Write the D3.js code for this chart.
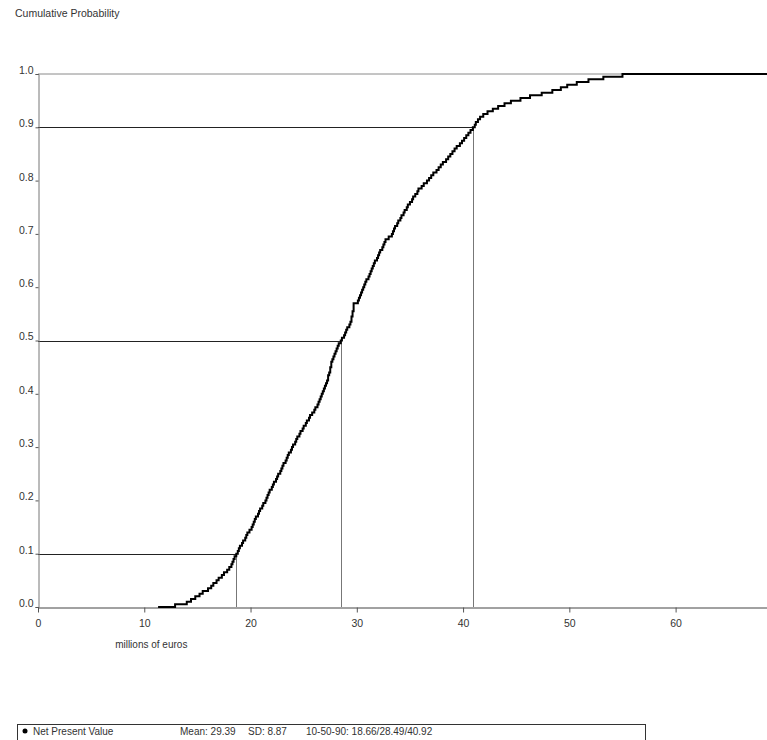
<!DOCTYPE html>
<html><head><meta charset="utf-8">
<script src="https://cdn.jsdelivr.net/npm/d3@7"></script>
<style>body{margin:0;background:#fff}svg{display:block}text{font-family:"Liberation Sans",Arial,sans-serif;font-size:10.5px;fill:#333}</style>
</head><body><svg id="c" width="767" height="740"></svg>
<script>
// cumulative probability levels (steps of 0.005) and the value (millions of euros) reached at each
const probLevels = d3.range(0, 201).map(i => i / 200);
const npvQuantiles = [
 11.3,12.9,14.0,14.4,14.8,15.2,15.5,16.0,16.3,16.5,
 16.8,17.0,17.3,17.5,17.8,18.0,18.2,18.3,18.4,18.5,
 18.66,18.8,18.9,19.0,19.2,19.3,19.5,19.6,19.7,19.9,
 20.1,20.2,20.3,20.4,20.5,20.7,20.8,20.9,21.1,21.2,
 21.4,21.5,21.6,21.7,21.8,22.0,22.1,22.2,22.4,22.5,
 22.6,22.8,22.9,23.0,23.1,23.3,23.4,23.5,23.6,23.8,
 23.9,24.0,24.2,24.3,24.4,24.6,24.7,24.9,25.0,25.2,
 25.3,25.5,25.6,25.8,26.0,26.1,26.3,26.4,26.5,26.6,
 26.7,26.8,26.9,27.0,27.1,27.2,27.3,27.3,27.4,27.5,
 27.5,27.6,27.6,27.7,27.8,27.9,28.0,28.1,28.2,28.3,
 28.49,28.6,28.8,28.9,29.0,29.1,29.3,29.4,29.5,29.5,
 29.6,29.6,29.7,29.7,29.7,30.1,30.2,30.3,30.4,30.5,
 30.6,30.7,30.8,30.9,31.1,31.2,31.3,31.4,31.5,31.6,
 31.7,31.9,32.0,32.1,32.2,32.4,32.5,32.6,32.7,33.0,
 33.3,33.4,33.5,33.6,33.8,33.9,34.1,34.2,34.4,34.5,
 34.7,34.8,35.0,35.2,35.3,35.5,35.7,35.8,36.1,36.3,
 36.6,36.8,37.0,37.2,37.5,37.7,37.9,38.1,38.4,38.6,
 38.8,39.0,39.2,39.4,39.7,39.9,40.1,40.3,40.5,40.7,
 40.92,41.1,41.2,41.4,41.6,41.9,42.3,42.8,43.3,43.9,
 44.5,45.4,46.3,47.4,48.4,49.2,49.8,50.7,51.8,53.2,
 55.0];
const xMax = 68.6;
const xTicks = [0,10,20,30,40,50,60];
const yTicks = [0,0.1,0.2,0.3,0.4,0.5,0.6,0.7,0.8,0.9,1.0];
const percentiles = [{p:0.1,v:18.66},{p:0.5,v:28.49},{p:0.9,v:40.92}];
const legendName = "Net Present Value";
const legendStats = ["Mean: 29.39","SD: 8.87","10-50-90: 18.66/28.49/40.92"];

const svg = d3.select("#c");
const x = d3.scaleLinear().domain([0, xMax]).range([38, 767]);
const y = d3.scaleLinear().domain([0, 1]).range([607, 74]);

svg.append("text").attr("x",15).attr("y",17).text("Cumulative Probability");

// top border
svg.append("line").attr("x1",x(0)).attr("x2",767).attr("y1",y(1)).attr("y2",y(1)).attr("stroke","#8a8a8a");

// percentile guides
percentiles.forEach(d=>{
  svg.append("line").attr("x1",x(0)).attr("x2",x(d.v)).attr("y1",Math.round(y(d.p))+0.5).attr("y2",Math.round(y(d.p))+0.5).attr("stroke","#222");
  svg.append("line").attr("x1",Math.round(x(d.v))+0.5).attr("x2",Math.round(x(d.v))+0.5).attr("y1",y(d.p)).attr("y2",y(0)).attr("stroke","#777");
});

// y axis
const ya = svg.append("g").attr("transform","translate(38.5,0)")
  .call(d3.axisLeft(y).tickValues(yTicks).tickFormat(d3.format(".1f")).tickSize(3).tickPadding(2));
ya.select(".domain").attr("stroke","#777");
ya.selectAll(".tick line").attr("stroke","#555");
ya.selectAll("text").attr("dy","-0.05em").style("font-size","10.5px");

// x axis
const xa = svg.append("g").attr("transform","translate(0,607.5)")
  .call(d3.axisBottom(x).tickValues(xTicks).tickSize(5).tickSizeOuter(0).tickPadding(7));
xa.select(".domain").attr("stroke","#444");
xa.selectAll(".tick line").attr("stroke","#555");
xa.selectAll("text").style("font-size","10.5px");

svg.append("text").attr("x",x(10)+7).attr("y",648).attr("text-anchor","middle").style("font-size","10px").text("millions of euros");

// CDF curve
const pts = npvQuantiles.map((v,i)=>[v, probLevels[i]]);
pts.push([xMax, 1]);
svg.append("path").datum(pts)
  .attr("d", d3.line().x(d=>x(d[0])).y(d=>y(d[1])).curve(d3.curveStepAfter))
  .attr("fill","none").attr("stroke","#000").attr("stroke-width",2);

// legend
svg.append("rect").attr("x",17.5).attr("y",724.5).attr("width",628).attr("height",30).attr("fill","none").attr("stroke","#333");
svg.append("circle").attr("cx",25).attr("cy",731).attr("r",2.5).attr("fill","#000");
svg.append("text").attr("x",33).attr("y",735).style("font-size","10px").text(legendName);
const lx = [180, 248, 306];
legendStats.forEach((t,i)=>svg.append("text").attr("x",lx[i]).attr("y",735).style("font-size","10px").text(t));
</script></body></html>
